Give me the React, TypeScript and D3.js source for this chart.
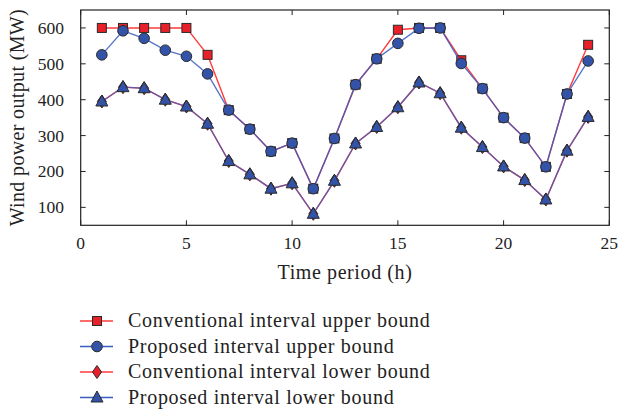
import React, { useEffect, useRef } from 'react';
import * as d3 from 'd3';

const hours = [1, 2, 3, 4, 5, 6, 7, 8, 9, 10, 11, 12, 13, 14, 15, 16, 17, 18, 19, 20, 21, 22, 23, 24];
const convUpper = [600, 600, 600, 600, 600, 525, 371, 318, 256, 279, 152, 292, 442, 514, 595, 600, 600, 510, 431, 350, 293, 213, 416, 553];
const propUpper = [525, 592, 571, 538, 521, 472, 371, 318, 256, 279, 152, 292, 442, 514, 557, 599, 600, 501, 431, 350, 293, 213, 416, 508];
const convLower = [395, 435, 432, 400, 381, 333, 229, 192, 152, 167, 82, 174, 278, 324, 379, 448, 418, 322, 268, 214, 176, 122, 258, 352];
const propLower = [395, 435, 432, 400, 381, 333, 229, 192, 152, 167, 82, 174, 278, 324, 379, 448, 418, 322, 268, 214, 176, 122, 258, 352];
const xTicks = [0, 5, 10, 15, 20, 25];
const yTicks = [100, 200, 300, 400, 500, 600];
const legendLabels = [
  'Conventional interval upper bound',
  'Proposed interval upper bound',
  'Conventional interval lower bound',
  'Proposed interval lower bound'
];

const RED = '#ff3b3b';
const BLUE = '#3a5cc0';
const RED_FILL = '#e8202a';
const BLUE_FILL = '#3253a8';
const EDGE = '#2a2a2a';
const FONT = '"Liberation Serif", "Times New Roman", serif';

function drawMarker(g: any, kind: string, cx: number, cy: number) {
  if (kind === 'square') {
    g.append('rect')
      .attr('x', cx - 4.5).attr('y', cy - 4.5)
      .attr('width', 9).attr('height', 9)
      .attr('fill', RED_FILL).attr('stroke', EDGE).attr('stroke-width', 1);
  } else if (kind === 'circle') {
    g.append('circle')
      .attr('cx', cx).attr('cy', cy).attr('r', 5.3)
      .attr('fill', BLUE_FILL).attr('stroke', EDGE).attr('stroke-width', 1);
  } else if (kind === 'diamond') {
    g.append('path')
      .attr('d', `M${cx},${cy - 6.5}L${cx + 4.5},${cy}L${cx},${cy + 6.5}L${cx - 4.5},${cy}Z`)
      .attr('fill', RED_FILL).attr('stroke', EDGE).attr('stroke-width', 1);
  } else {
    g.append('path')
      .attr('d', `M${cx},${cy - 6.5}L${cx + 6},${cy + 4.5}L${cx - 6},${cy + 4.5}Z`)
      .attr('fill', BLUE_FILL).attr('stroke', EDGE).attr('stroke-width', 1);
  }
}

export default function App() {
  const ref = useRef<SVGSVGElement>(null);

  useEffect(() => {
    const svg = d3.select(ref.current);
    svg.selectAll('*').remove();

    const left = 80.7, right = 609.3, top = 10, bottom = 225.3;
    const x = d3.scaleLinear().domain([0, 25]).range([left, right]);
    const y = d3.scaleLinear().domain([50, 650]).range([bottom, top]);

    // frame
    svg.append('rect')
      .attr('x', left).attr('y', top)
      .attr('width', right - left).attr('height', bottom - top)
      .attr('fill', 'none').attr('stroke', '#222').attr('stroke-width', 1.2);

    // inward ticks on all sides
    const ticks = svg.append('g').attr('stroke', '#222').attr('stroke-width', 1);
    xTicks.forEach(t => {
      ticks.append('line').attr('x1', x(t)).attr('x2', x(t)).attr('y1', bottom).attr('y2', bottom - 5);
      ticks.append('line').attr('x1', x(t)).attr('x2', x(t)).attr('y1', top).attr('y2', top + 5);
    });
    yTicks.forEach(t => {
      ticks.append('line').attr('x1', left).attr('x2', left + 5).attr('y1', y(t)).attr('y2', y(t));
      ticks.append('line').attr('x1', right).attr('x2', right - 5).attr('y1', y(t)).attr('y2', y(t));
    });

    const labels = svg.append('g').attr('font-family', FONT).attr('fill', '#222');
    xTicks.forEach(t => {
      labels.append('text').attr('x', x(t)).attr('y', 249)
        .attr('text-anchor', 'middle').attr('font-size', 17.5).text(t);
    });
    yTicks.forEach(t => {
      labels.append('text').attr('x', 64).attr('y', y(t) + 6)
        .attr('text-anchor', 'end').attr('font-size', 17.5).text(t);
    });
    labels.append('text').attr('x', (left + right) / 2).attr('y', 279)
      .attr('text-anchor', 'middle').attr('font-size', 20).attr('letter-spacing', 0.6)
      .text('Time period (h)');
    labels.append('text')
      .attr('transform', `translate(24,${(top + bottom) / 2}) rotate(-90)`)
      .attr('text-anchor', 'middle').attr('font-size', 20).attr('letter-spacing', 0.35)
      .text('Wind power output (MW)');

    const series = [
      { values: convUpper, color: RED, marker: 'square', opacity: 1 },
      { values: propUpper, color: BLUE, marker: 'circle', opacity: 0.85 },
      { values: convLower, color: RED, marker: 'diamond', opacity: 1 },
      { values: propLower, color: BLUE, marker: 'triangle', opacity: 0.75 }
    ];

    const line = d3.line<number>()
      .x((_, i) => x(hours[i]))
      .y(d => y(d));

    const plot = svg.append('g');
    series.forEach(s => {
      plot.append('path')
        .attr('d', line(s.values))
        .attr('fill', 'none')
        .attr('stroke', s.color)
        .attr('stroke-opacity', s.opacity)
        .attr('stroke-width', 1.4);
      s.values.forEach((v, i) => drawMarker(plot, s.marker, x(hours[i]), y(v)));
    });

    // legend
    const legendY = [321, 346.5, 372, 397.5];
    const legend = svg.append('g');
    series.forEach((s, i) => {
      const ly = legendY[i];
      legend.append('line')
        .attr('x1', 80).attr('x2', 113).attr('y1', ly).attr('y2', ly)
        .attr('stroke', s.color).attr('stroke-width', 1.4);
      drawMarker(legend, s.marker, 97, ly);
      legend.append('text')
        .attr('x', 128).attr('y', ly + 6)
        .attr('font-family', FONT).attr('font-size', 20).attr('letter-spacing', 0.7)
        .attr('fill', '#222')
        .text(legendLabels[i]);
    });
  }, []);

  return (
    <svg
      ref={ref}
      width={621}
      height={415}
      style={{ position: 'absolute', left: 0, top: 0, background: '#fff' }}
    />
  );
}
